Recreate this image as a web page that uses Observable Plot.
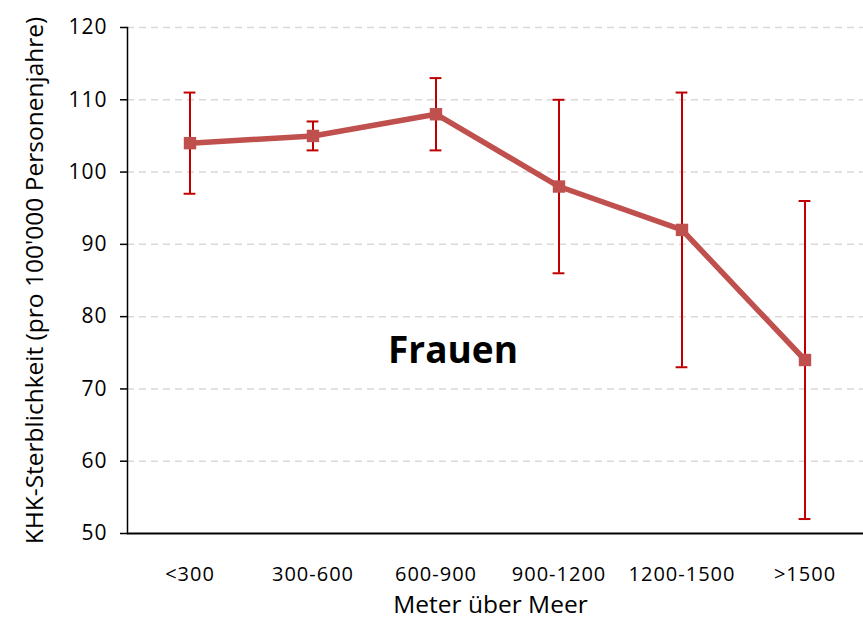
<!DOCTYPE html>
<html>
<head>
<meta charset="utf-8">
<script src="https://cdn.jsdelivr.net/npm/d3@7"></script>
<script src="https://cdn.jsdelivr.net/npm/@observablehq/plot@0.6"></script>
<style>
  html, body { margin: 0; padding: 0; background: #fff; }
  #chart svg { display: block; }
  #chart svg g[aria-label="x-axis tick label"] text,
  #chart svg g[aria-label="y-axis tick label"] text { letter-spacing: 1px; }
</style>
</head>
<body>
<div id="chart"></div>
<script>
const categories = ["<300", "300-600", "600-900", "900-1200", "1200-1500", ">1500"];
const values = [104, 105, 108, 98, 92, 74];
const lower = [97, 103, 103, 86, 73, 52];
const upper = [111, 107, 113, 110, 111, 96];
const yTicks = [50, 60, 70, 80, 90, 100, 110, 120];
const gridTicks = [60, 70, 80, 90, 100, 110, 120];
const annotation = [{label: "Frauen", x: "600-900", y: 75}];

const data = categories.map((c, i) => ({cat: c, v: values[i], lo: lower[i], hi: upper[i]}));
const font = "'Open Sans', 'DejaVu Sans', sans-serif";

const chart = Plot.plot({
  width: 863,
  height: 625,
  marginLeft: 127,
  marginRight: 0,
  marginTop: 27,
  marginBottom: 92,
  style: {fontFamily: font, fontSize: "20px", color: "#000", background: "#fff"},
  x: {type: "band", domain: categories, padding: 0, range: [127, 866], label: null},
  y: {domain: [50, 120], label: null},
  marks: [
    Plot.ruleY(gridTicks, {stroke: "#d9d9d9", strokeWidth: 1.5, strokeDasharray: "7,5"}),
    Plot.axisY(yTicks, {tickSize: 7, tickPadding: 13, stroke: "#000", strokeWidth: 1.5, fontSize: 21, label: null}),
    Plot.axisX({tickSize: 0, tickPadding: 33, fontSize: 20, label: null}),
    Plot.frame({anchor: "left", stroke: "#000", strokeWidth: 1.5}),
    Plot.ruleY([50], {stroke: "#000", strokeWidth: 2}),
    Plot.ruleX(data, {x: "cat", y1: "lo", y2: "hi", stroke: "#c00000", strokeWidth: 2}),
    Plot.tickY(data, {x: "cat", y: "lo", stroke: "#c00000", strokeWidth: 2, insetLeft: 55.6, insetRight: 55.6}),
    Plot.tickY(data, {x: "cat", y: "hi", stroke: "#c00000", strokeWidth: 2, insetLeft: 55.6, insetRight: 55.6}),
    Plot.line(data, {x: "cat", y: "v", stroke: "#c0504d", strokeWidth: 5.5}),
    Plot.dot(data, {x: "cat", y: "v", symbol: "square", r: 7, fill: "#c0504d", stroke: "none"}),
    Plot.text(annotation, {x: "x", y: "y", text: "label", dx: 17, dy: -2, fontSize: 37, fontWeight: "bold", fill: "#000", fontFamily: font}),
    Plot.text(["KHK-Sterblichkeit (pro 100'000 Personenjahre)"], {frameAnchor: "left", dx: -92, rotate: -90, fontSize: 24.5, fill: "#000", textAnchor: "middle"}),
    Plot.text(["Meter über Meer"], {frameAnchor: "bottom", dx: -5, dy: 79, fontSize: 24.5, fill: "#000"})
  ]
});
document.getElementById("chart").appendChild(chart);
</script>
</body>
</html>
